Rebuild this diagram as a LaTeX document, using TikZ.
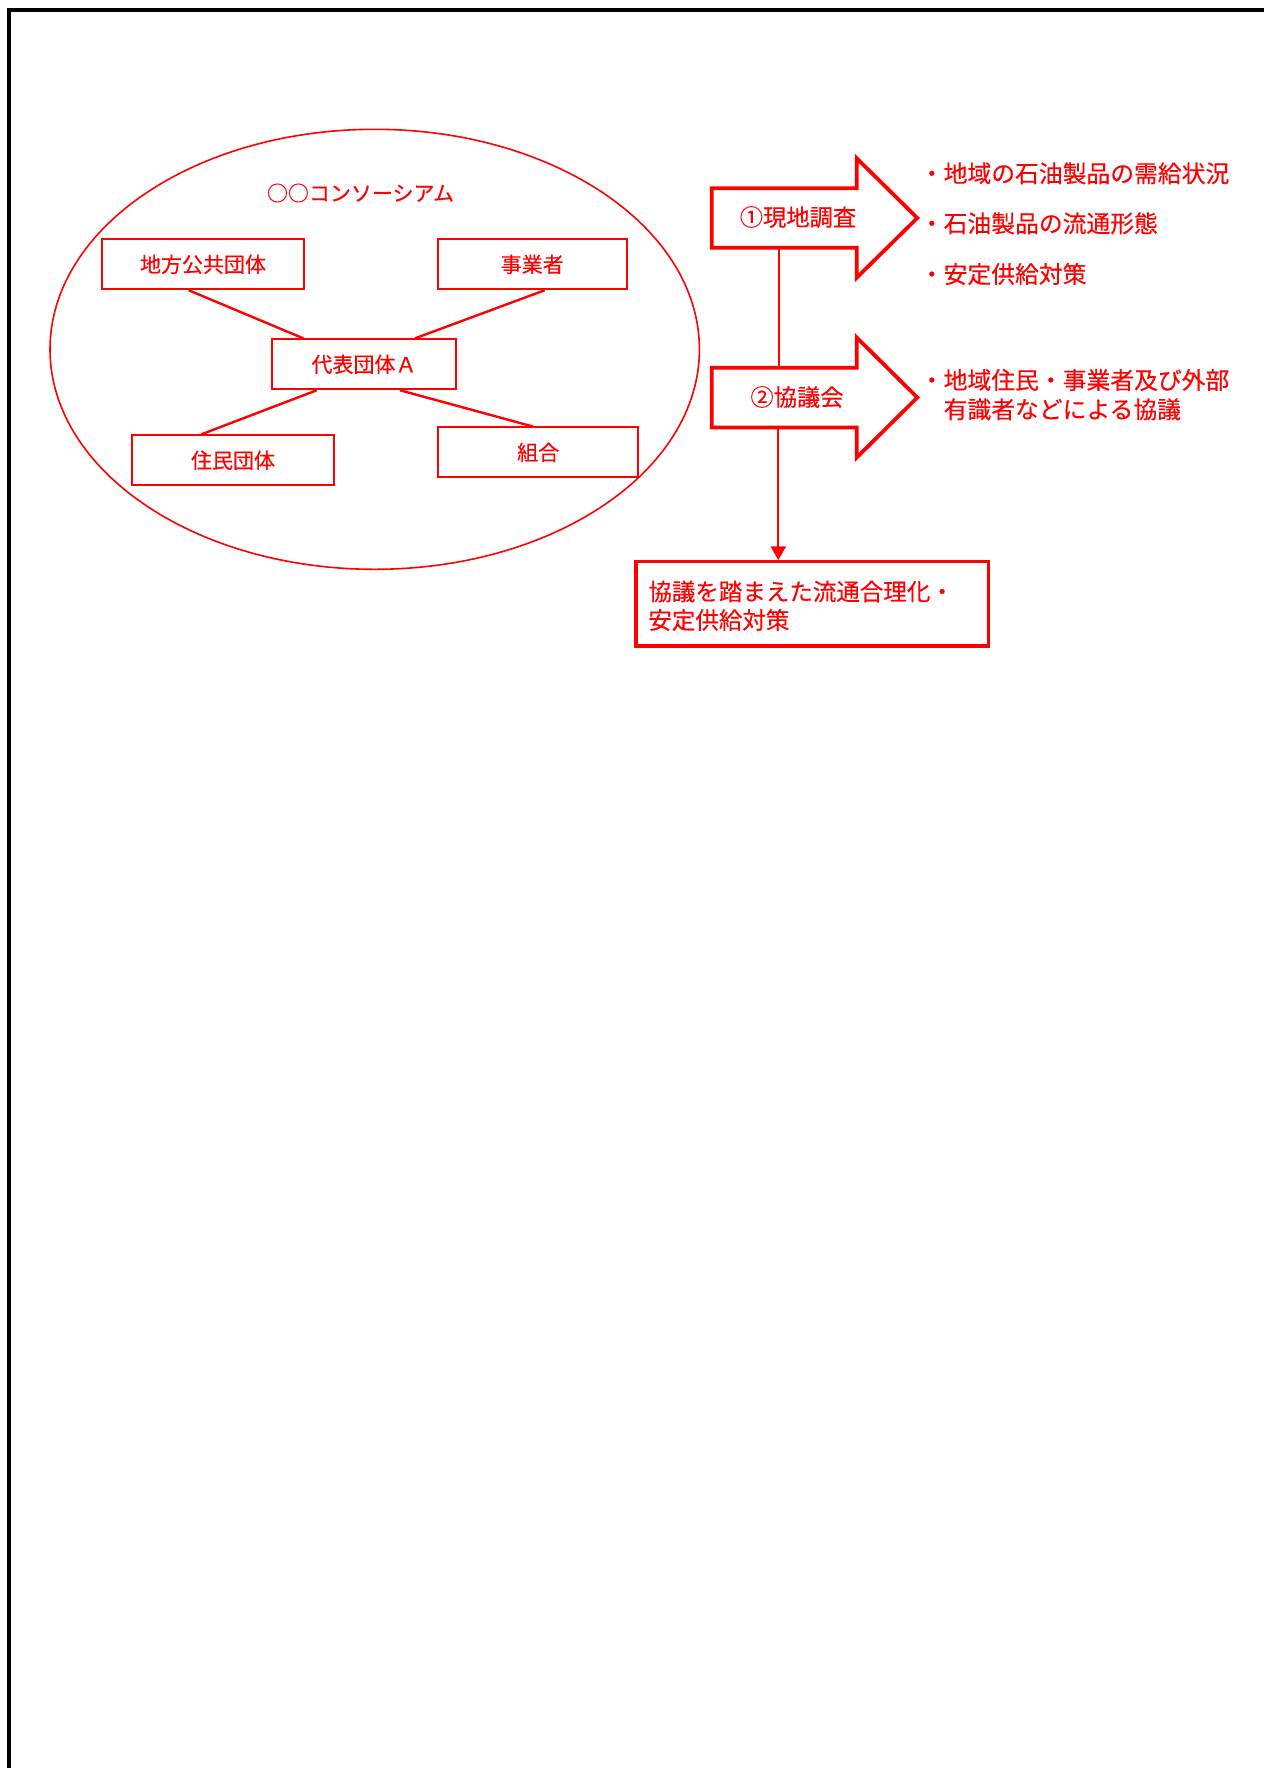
\documentclass[tikz,border=0pt]{standalone}
\usepackage{fontspec}
\setmainfont[FakeBold=0.35]{Noto Sans CJK JP}
\usetikzlibrary{calc,arrows.meta}
\definecolor{rd}{RGB}{255,0,0}
\begin{document}
\begin{tikzpicture}[x=0.5pt,y=-0.5pt,
  box/.style={draw=rd,line width=0.95pt,minimum width=#1,minimum height=25pt,inner sep=0pt,text=rd,font=\fontsize{10.5pt}{12pt}\selectfont},
  conn/.style={draw=rd,line width=1.2pt},
  arr/.style={draw=rd,line width=1.9pt,fill=white,line join=miter},
  vline/.style={draw=rd,line width=1.1pt},
  lbl/.style={text=rd,inner sep=0pt,font=\fontsize{11.65pt}{14pt}\selectfont},
  bul/.style={anchor=west,text=rd,inner sep=0pt,font=\fontsize{11.9pt}{14pt}\selectfont},
  res/.style={anchor=west,text=rd,inner sep=0pt,font=\fontsize{11.75pt}{14pt}\selectfont}]
\useasboundingbox (0,0) rectangle (1264,1768);
% frame
\draw[line width=2pt] (9,1790) -- (9,9.5) -- (1290,9.5);
% consortium ellipse
\draw[rd,line width=0.8pt] (374.7,349.3) ellipse [x radius=162.35pt, y radius=110pt];
\node[text=rd,inner sep=0pt,font=\fontsize{10.5pt}{12pt}\selectfont] (title) at (360.5,193) {○○コンソーシアム};
% member boxes
\node[box=101pt] (chiho) at (203,264.3) {地方公共団体};
\node[box=94.35pt] (jigyo) at (532.3,264.3) {事業者};
\node[box=92pt] (daihyo) at (364,364.3) {代表団体Ａ};
\node[box=101pt] (jumin) at (233,460.3) {住民団体};
\node[box=100.15pt] (kumiai) at (538.2,452.4) {組合};
% connectors
\draw[conn] ($(chiho.south)+(-14.3,0)$) -- ($(daihyo.north)+(-60.7,0)$);
\draw[conn] ($(jigyo.south)+(12.4,0)$) -- ($(daihyo.north)+(51,0)$);
\draw[conn] ($(daihyo.south)+(-47.3,0)$) -- ($(jumin.north)+(-31.7,0)$);
\draw[conn] ($(daihyo.south)+(36,0)$) -- ($(kumiai.north)+(-5.5,0)$);
% result box
\node[draw=rd,line width=1.7pt,minimum width=176.15pt,minimum height=42.15pt,inner sep=0pt] (resbox) at (812.2,603.9) {};
\node[res] (rt1) at (648,591.5) {協議を踏まえた流通合理化・};
\node[res] (rt2) at (648,620) {安定供給対策};
% flow coordinates
\coordinate (a1s) at (779.3,247.7);
\coordinate (a2n) at (779.3,367.7);
\coordinate (a2s) at (778.3,427.5);
\draw[vline] (a1s) -- (a2n);
\draw[vline,-{Triangle[length=6.8pt,width=7.5pt]}] (a2s) -- (a2s |- resbox.north);
% block arrows
\draw[arr] (711.7,188.3) -- (856.7,188.3) -- (856.7,158.3) -- (917.3,218) -- (856.7,277.7) -- (856.7,247.7) -- (711.7,247.7) -- cycle;
\node[lbl] (t1) at (798,217) {①現地調査};
\draw[arr] (711.7,367.7) -- (856.7,367.7) -- (856.7,337.5) -- (917.3,397.5) -- (856.7,457.5) -- (856.7,427.5) -- (711.7,427.5) -- cycle;
\node[lbl] (t2) at (797,397) {②協議会};
% bullet texts
\node[bul] (b1) at (919.5,173.3) {・地域の石油製品の需給状況};
\node[bul] (b2) at (919.5,223.3) {・石油製品の流通形態};
\node[bul] (b3) at (919.5,274) {・安定供給対策};
\node[bul] (b4) at (919.5,380) {・地域住民・事業者及び外部};
\node[bul] (b5) at (943.3,409.3) {有識者などによる協議};
\end{tikzpicture}
\end{document}
